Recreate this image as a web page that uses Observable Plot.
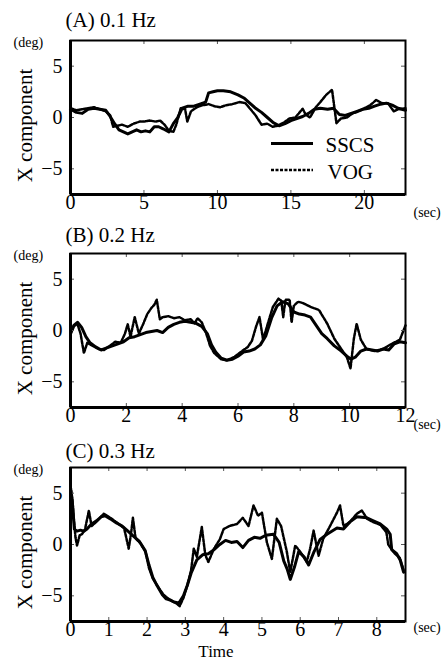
<!DOCTYPE html>
<html>
<head>
<meta charset="utf-8">
<script src="https://cdn.jsdelivr.net/npm/d3@7"></script>
<script src="https://cdn.jsdelivr.net/npm/@observablehq/plot@0.6"></script>
<style>
  html, body { margin: 0; padding: 0; background: white; }
  #chart { position: relative; width: 441px; height: 659px; background: white; }
  #chart svg { position: absolute; left: 0; }
</style>
</head>
<body>
<div id="chart"></div>
<script>
// ---------- data ----------
const yTicks = [-5, 0, 5];
const yDomain = [-7.5, 7.5];

// Panel A (0.1 Hz)
const aTitle = "(A) 0.1 Hz";
const aXDomain = [0, 22.8];
const aXTicks = [0, 5, 10, 15, 20];
const aSscsT = [0, 0.4, 0.8, 1.2, 1.6, 2.0, 2.4, 2.7, 3.0, 3.3, 3.6, 3.9, 4.2, 4.5, 4.8, 5.1, 5.4, 5.7, 6.0, 6.3, 6.7, 7.0, 7.3, 7.6, 8.0, 8.4, 8.8, 9.2, 9.4, 9.7, 10.0, 10.4, 10.9, 11.4, 11.8, 12.2, 12.6, 13.0, 13.4, 13.8, 14.2, 14.6, 15.0, 15.4, 15.8, 16.2, 16.6, 17.0, 17.5, 17.9, 18.3, 18.7, 19.1, 19.5, 19.9, 20.3, 20.7, 21.1, 21.5, 21.9, 22.3, 22.8];
const aSscsV = [0.8, 0.5, 0.4, 0.8, 0.9, 0.8, 0.7, 0.1, -0.6, -1.2, -1.4, -1.6, -1.4, -1.2, -1.4, -1.3, -1.4, -0.9, -0.9, -1.1, -1.4, -0.6, 0.0, 0.9, 1.1, 1.1, 1.3, 1.5, 2.4, 2.5, 2.6, 2.6, 2.5, 2.2, 1.9, 1.4, 0.9, 0.5, 0.0, -0.5, -0.8, -0.6, -0.3, -0.1, 0.1, 0.4, 0.8, 0.9, 0.8, 0.9, 0.3, 0.2, 0.4, 0.6, 0.8, 0.9, 1.1, 1.3, 1.4, 1.2, 0.9, 0.7];
const aVogT = [0, 0.4, 0.8, 1.2, 1.6, 2.0, 2.4, 2.7, 2.9, 3.2, 3.5, 3.9, 4.3, 4.7, 5.0, 5.4, 5.8, 6.1, 6.4, 6.7, 7.0, 7.2, 7.5, 7.8, 7.95, 8.2, 8.6, 9.0, 9.4, 9.8, 10.2, 10.6, 11.0, 11.5, 11.9, 12.2, 12.6, 13.0, 13.4, 13.75, 14.1, 14.5, 14.9, 15.3, 15.8, 16.0, 16.3, 16.7, 17.0, 17.4, 17.8, 18.1, 18.4, 18.8, 19.2, 19.6, 20.0, 20.4, 20.8, 21.2, 21.6, 22.0, 22.3, 22.8];
const aVogV = [0.9, 0.7, 0.8, 0.9, 1.0, 0.8, 0.6, 0.2, -0.9, -0.8, -0.7, -0.9, -0.6, -0.4, -0.4, -0.3, -0.4, -0.3, -0.7, -1.3, -1.4, -0.7, 0.9, 0.8, -0.4, 0.6, 1.0, 1.2, 1.3, 1.1, 1.0, 1.2, 1.3, 1.5, 1.4, 0.9, 0.2, -0.7, -0.6, -0.9, -0.8, -0.5, -0.1, 0.0, 0.85, 0.3, 0.0, 1.0, 1.5, 2.2, 2.7, -0.55, -0.1, 0.0, 0.4, 0.6, 0.9, 1.2, 1.7, 1.4, 1.4, 0.6, 0.8, 0.9];

// Panel B (0.2 Hz)
const bTitle = "(B) 0.2 Hz";
const bXDomain = [0, 12];
const bXTicks = [0, 2, 4, 6, 8, 10, 12];
const bSscsT = [0, 0.12, 0.25, 0.4, 0.55, 0.7, 0.9, 1.1, 1.3, 1.5, 1.7, 1.9, 2.1, 2.3, 2.5, 2.7, 2.9, 3.1, 3.3, 3.5, 3.7, 3.9, 4.1, 4.3, 4.5, 4.7, 4.9, 5.05, 5.2, 5.4, 5.6, 5.8, 6.0, 6.2, 6.4, 6.6, 6.8, 7.0, 7.2, 7.4, 7.6, 7.8, 8.0, 8.2, 8.4, 8.6, 8.8, 9.0, 9.2, 9.45, 9.7, 9.9, 10.05, 10.2, 10.4, 10.6, 10.8, 11.0, 11.2, 11.4, 11.6, 11.8, 12.0];
const bSscsV = [-0.2, 0.5, 0.8, 0.3, -0.6, -1.2, -1.6, -1.9, -1.7, -1.5, -1.3, -1.1, -0.7, -0.6, -0.4, -0.2, -0.1, 0.0, -0.2, 0.3, 0.6, 0.8, 0.9, 0.8, 0.7, 0.4, -0.3, -1.4, -2.1, -2.7, -2.9, -2.8, -2.5, -2.1, -2.0, -1.8, -1.4, -0.5, 1.2, 2.4, 2.8, 2.6, 1.8, 1.6, 1.5, 1.3, 0.5, -0.3, -0.8, -1.5, -2.0, -2.5, -2.8, -2.6, -2.0, -1.8, -1.9, -2.0, -1.8, -1.9, -1.3, -1.1, -1.2];
const bVogT = [0, 0.12, 0.24, 0.36, 0.48, 0.6, 0.8, 1.0, 1.2, 1.4, 1.6, 1.8, 1.95, 2.05, 2.15, 2.3, 2.45, 2.6, 2.75, 2.9, 3.0, 3.09, 3.2, 3.3, 3.5, 3.7, 3.9, 4.1, 4.3, 4.45, 4.55, 4.7, 4.85, 5.0, 5.15, 5.4, 5.6, 5.85, 6.1, 6.35, 6.5, 6.65, 6.77, 6.9, 7.05, 7.25, 7.45, 7.55, 7.62, 7.7, 7.85, 7.92, 8.0, 8.15, 8.3, 8.6, 8.9, 9.2, 9.45, 9.7, 9.9, 10.03, 10.15, 10.25, 10.4, 10.6, 10.9, 11.2, 11.5, 11.8, 12.0];
const bVogV = [-0.4, 0.4, 0.7, -0.3, -2.2, -1.2, -1.5, -1.8, -1.9, -1.5, -1.1, -1.2, -0.3, 0.6, -0.6, 1.3, -0.3, 0.6, 1.6, 2.2, 2.5, 3.0, 1.1, 1.3, 1.4, 1.2, 1.3, 1.0, 1.1, 0.7, 1.2, 0.8, -0.2, -1.5, -2.2, -2.8, -2.9, -2.6, -2.1, -1.6, -1.0, 0.4, 1.3, -0.9, 0.5, 2.3, 3.1, 2.9, 1.3, 3.0, 3.0, 0.8, 2.4, 2.8, 2.7, 2.3, 2.0, 0.65, -0.8, -1.8, -2.6, -3.7, -0.8, 0.65, -0.9, -1.8, -2.0, -1.8, -1.3, -0.9, 0.5];

// Panel C (0.3 Hz)
const cTitle = "(C) 0.3 Hz";
const cXDomain = [0, 8.75];
const cXTicks = [0, 1, 2, 3, 4, 5, 6, 7, 8];
const cSscsT = [0, 0.05, 0.1, 0.17, 0.26, 0.35, 0.43, 0.55, 0.68, 0.8, 0.9, 1.04, 1.2, 1.35, 1.5, 1.65, 1.8, 1.95, 2.05, 2.15, 2.26, 2.4, 2.5, 2.6, 2.7, 2.83, 2.95, 3.05, 3.15, 3.3, 3.45, 3.6, 3.75, 3.9, 4.05, 4.2, 4.35, 4.5, 4.65, 4.8, 4.95, 5.1, 5.3, 5.45, 5.57, 5.66, 5.74, 5.85, 5.96, 6.1, 6.22, 6.35, 6.52, 6.7, 6.96, 7.13, 7.3, 7.48, 7.74, 7.91, 8.09, 8.26, 8.35, 8.39, 8.52, 8.61, 8.7];
const cSscsV = [5.5, 4.0, 1.5, 1.3, 1.4, 1.3, 1.5, 2.0, 2.3, 2.7, 2.8, 2.5, 2.1, 1.8, 1.3, 0.8, 0.3, -0.6, -2.0, -3.2, -4.0, -4.9, -5.3, -5.4, -5.6, -5.7, -5.0, -4.0, -2.8, -1.5, -1.0, -0.9, -0.5, 0.0, 0.4, 0.2, 0.3, -0.3, 0.4, 0.7, 0.6, 0.9, 1.0, 0.2, -1.6, -2.4, -3.4, -2.2, -0.7, -1.2, -2.0, -0.8, 0.5, 1.0, 1.6, 1.5, 2.2, 2.7, 2.6, 2.3, 2.0, 1.5, 1.0, -0.5, -0.9, -1.5, -2.7];
const cVogT = [0, 0.05, 0.08, 0.13, 0.17, 0.24, 0.3, 0.38, 0.48, 0.55, 0.7, 0.87, 1.04, 1.22, 1.4, 1.52, 1.58, 1.63, 1.7, 1.83, 1.96, 2.05, 2.15, 2.3, 2.43, 2.6, 2.75, 2.85, 2.95, 3.05, 3.15, 3.22, 3.3, 3.43, 3.52, 3.6, 3.75, 3.9, 4.0, 4.15, 4.35, 4.5, 4.65, 4.78, 4.9, 5.0, 5.13, 5.26, 5.39, 5.5, 5.65, 5.74, 5.87, 6.0, 6.17, 6.26, 6.35, 6.48, 6.6, 6.78, 6.96, 7.04, 7.13, 7.3, 7.48, 7.61, 7.75, 7.9, 8.1, 8.25, 8.3, 8.45, 8.6, 8.7];
const cVogV = [5.7, 4.4, 2.8, 0.7, -0.1, 0.9, 1.0, 1.5, 3.3, 1.8, 2.3, 3.0, 2.6, 2.1, 1.6, -0.4, 1.0, 2.6, 0.6, 0.1, -0.7, -2.3, -3.3, -4.2, -4.9, -5.4, -5.7, -6.0, -5.2, -4.0, -2.5, -0.4, -1.2, 1.7, -1.0, -1.7, -0.4, 0.5, 1.5, 1.8, 2.0, 2.6, 1.8, 3.8, 2.8, 3.1, 0.2, -1.4, 2.5, 1.8, -0.7, -2.7, -0.1, -0.7, -1.7, -0.4, 1.35, -1.1, 0.55, 1.8, 3.1, 3.8, 1.8, 2.2, 3.0, 3.3, 2.5, 2.2, 1.9, 1.2, 0.0, -0.8, -1.3, -2.5];

const seriesNames = ["SSCS", "VOG"];

// ---------- drawing ----------
const STYLE = "font-family: 'Liberation Serif', 'Times New Roman', 'DejaVu Serif', serif; font-size: 20px; color: black; background: transparent; overflow: visible;";
const toRows = (ts, vs) => ts.map((t, i) => ({t, v: vs[i]}));

function panel({title, xDomain, xTicks, sscs, vog, top, height, titleDy, secDy, time, legend}) {
  const marginTop = 40, marginLeft = 70, marginRight = 36, innerH = 154;
  const marginBottom = height - marginTop - innerH;
  const innerW = 441 - marginLeft - marginRight;
  const marks = [
    Plot.line(sscs, {x: "t", y: "v", stroke: "black", strokeWidth: 3}),
    Plot.line(vog, {x: "t", y: "v", stroke: "black", strokeWidth: 2.5, strokeDasharray: "3,1.5"}),
    // inward ticks on all four sides
    Plot.tickX(xTicks, {x: d => d, insetTop: innerH - 4, stroke: "#555", strokeWidth: 1}),
    Plot.tickX(xTicks, {x: d => d, insetBottom: innerH - 4, stroke: "#555", strokeWidth: 1}),
    Plot.tickY(yTicks, {y: d => d, insetRight: innerW - 4, stroke: "#555", strokeWidth: 1}),
    Plot.tickY(yTicks, {y: d => d, insetLeft: innerW - 4, stroke: "#555", strokeWidth: 1}),
    Plot.frame({stroke: "black", strokeWidth: 2}),
    Plot.ruleX([xDomain[0]], {stroke: "black", strokeWidth: 3}),
    Plot.ruleY([yDomain[0]], {stroke: "black", strokeWidth: 3}),
    Plot.axisX(xTicks, {tickSize: 0, tickPadding: 0, fontSize: 20, label: null}),
    Plot.axisY(yTicks, {tickSize: 0, tickPadding: 8, fontSize: 20, label: null}),
    Plot.text([title], {text: d => d, frameAnchor: "top-left", dx: -5, dy: titleDy, textAnchor: "start", lineAnchor: "bottom", fontSize: 21}),
    Plot.text(["(deg)"], {text: d => d, frameAnchor: "top-left", dx: -57, dy: 6, textAnchor: "start", lineAnchor: "bottom", fontSize: 14}),
    Plot.text(["(sec)"], {text: d => d, frameAnchor: "bottom-right", dx: 8, dy: secDy, textAnchor: "start", lineAnchor: "bottom", fontSize: 14}),
    Plot.text(["X component"], {text: d => d, frameAnchor: "left", dx: -39, dy: 8, rotate: -90, textAnchor: "middle", lineAnchor: "bottom", fontSize: 21})
  ];
  if (time) {
    marks.push(Plot.text(["Time"], {text: d => d, frameAnchor: "bottom", dx: -22, dy: 35, lineAnchor: "bottom", fontSize: 17}));
  }
  if (legend) {
    marks.push(Plot.text([seriesNames[0]], {text: d => d, frameAnchor: "top-left", dx: 255, dy: 111.5, textAnchor: "start", lineAnchor: "bottom", fontSize: 21}));
    marks.push(Plot.text([seriesNames[1]], {text: d => d, frameAnchor: "top-left", dx: 257, dy: 138, textAnchor: "start", lineAnchor: "bottom", fontSize: 21}));
  }
  const svg = Plot.plot({
    width: 441, height, marginTop, marginBottom, marginLeft, marginRight,
    x: {domain: xDomain},
    y: {domain: yDomain},
    style: STYLE,
    marks
  });
  svg.style.top = top + "px";
  if (legend) {
    const g = d3.select(svg).append("g").attr("stroke", "black").attr("fill", "none");
    g.append("line").attr("x1", 271).attr("x2", 313).attr("y1", 143.5).attr("y2", 143.5).attr("stroke-width", 3);
    g.append("line").attr("x1", 271).attr("x2", 313).attr("y1", 170).attr("y2", 170).attr("stroke-width", 2.5).attr("stroke-dasharray", "3,1.5");
  }
  return svg;
}

const chart = document.getElementById("chart");
chart.appendChild(panel({title: aTitle, xDomain: aXDomain, xTicks: aXTicks, sscs: toRows(aSscsT, aSscsV), vog: toRows(aVogT, aVogV), top: 0, height: 226, titleDy: -14, secDy: 22, legend: true}));
chart.appendChild(panel({title: bTitle, xDomain: bXDomain, xTicks: bXTicks, sscs: toRows(bSscsT, bSscsV), vog: toRows(bVogT, bVogV), top: 213, height: 226, titleDy: -12, secDy: 21}));
chart.appendChild(panel({title: cTitle, xDomain: cXDomain, xTicks: cXTicks, sscs: toRows(cSscsT, cSscsV), vog: toRows(cVogT, cVogV), top: 427, height: 232, titleDy: -10, secDy: 10, time: true}));
</script>
</body>
</html>
